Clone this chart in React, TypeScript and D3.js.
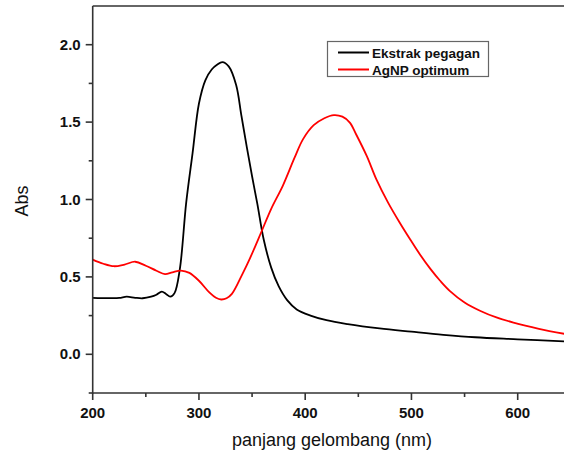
import React, { useEffect, useRef } from 'react'
import * as d3 from 'd3'

// UV-Vis spectra
const ekstrakNm = [200, 215, 225, 232, 240, 247, 255, 260, 265, 269, 273, 277, 282, 288, 294, 300, 306, 312, 317, 322, 328, 335, 340, 345, 350, 355, 361, 368, 375, 383, 392, 405, 420, 440, 470, 500, 530, 560, 600, 644]
const ekstrakAbs = [0.365, 0.363, 0.364, 0.372, 0.365, 0.362, 0.372, 0.385, 0.405, 0.39, 0.372, 0.395, 0.55, 0.98, 1.3, 1.62, 1.77, 1.84, 1.87, 1.888, 1.86, 1.74, 1.54, 1.34, 1.15, 0.97, 0.74, 0.56, 0.44, 0.35, 0.29, 0.25, 0.22, 0.195, 0.167, 0.146, 0.126, 0.11, 0.097, 0.083]

const agnpNm = [200, 210, 220, 230, 240, 250, 260, 268, 275, 283, 291, 300, 310, 316, 321, 326, 331, 341, 348, 359, 368, 379, 390, 398, 408, 418, 427, 435, 442, 448, 458, 467, 478, 489, 499, 508, 518, 527, 536, 550, 565, 580, 596, 620, 644]
const agnpAbs = [0.612, 0.585, 0.569, 0.58, 0.598, 0.572, 0.54, 0.518, 0.53, 0.541, 0.526, 0.475, 0.398, 0.365, 0.354, 0.362, 0.39, 0.52, 0.62, 0.795, 0.94, 1.09, 1.27, 1.39, 1.48, 1.525, 1.545, 1.535, 1.497, 1.42, 1.28, 1.13, 0.98, 0.85, 0.74, 0.645, 0.55, 0.475, 0.41, 0.335, 0.28, 0.238, 0.205, 0.165, 0.132]

const xMajor = [200, 300, 400, 500, 600]
const xMinor = [250, 350, 450, 550]
const yMajor = [0, 0.5, 1.0, 1.5, 2.0]
const yMinor = [-0.25, 0.25, 0.75, 1.25, 1.75]

const seriesNames = ['Ekstrak pegagan', 'AgNP optimum']
const seriesColors = ['#000000', '#ff0000']

const W = 564
const H = 459
const margin = { left: 92.7, top: 6, bottom: 393 }
const axisColor = '#333333'

function App() {
    const ref = useRef<SVGSVGElement>(null)

    useEffect(() => {
        const svg = d3.select(ref.current)
        svg.selectAll('*').remove()

        const x = d3.scaleLinear().domain([200, 650]).range([margin.left, margin.left + 450 * 1.0625])
        const y = d3.scaleLinear().domain([-0.25, 2.25]).range([margin.bottom, margin.top])

        const line = d3.line<[number, number]>()
            .x(d => x(d[0]))
            .y(d => y(d[1]))
            .curve(d3.curveCatmullRom.alpha(0.5))

        const series = [
            ekstrakNm.map((v, i) => [v, ekstrakAbs[i]] as [number, number]),
            agnpNm.map((v, i) => [v, agnpAbs[i]] as [number, number]),
        ]

        // curves
        const plot = svg.append('g')
        plot.selectAll('path.curve')
            .data(series)
            .enter()
            .append('path')
            .attr('class', 'curve')
            .attr('d', d => line(d))
            .attr('fill', 'none')
            .attr('stroke', (d, i) => seriesColors[i])
            .attr('stroke-width', 1.8)

        // frame: left, bottom, top
        const frame = svg.append('g').attr('stroke', axisColor).attr('stroke-width', 1.6)
        frame.append('line').attr('x1', margin.left).attr('x2', margin.left).attr('y1', margin.top).attr('y2', margin.bottom + 0.8)
        frame.append('line').attr('x1', margin.left).attr('x2', W).attr('y1', margin.bottom).attr('y2', margin.bottom)
        frame.append('line').attr('x1', margin.left).attr('x2', W).attr('y1', margin.top).attr('y2', margin.top)

        // y ticks
        frame.selectAll('line.ymaj').data(yMajor).enter().append('line')
            .attr('x1', margin.left - 7).attr('x2', margin.left)
            .attr('y1', d => y(d)).attr('y2', d => y(d))
        frame.selectAll('line.ymin').data(yMinor).enter().append('line')
            .attr('x1', margin.left - 4).attr('x2', margin.left)
            .attr('y1', d => y(d)).attr('y2', d => y(d))

        // x ticks
        frame.selectAll('line.xmaj').data(xMajor).enter().append('line')
            .attr('x1', d => x(d)).attr('x2', d => x(d))
            .attr('y1', margin.bottom).attr('y2', margin.bottom + 7)
        frame.selectAll('line.xmin').data(xMinor).enter().append('line')
            .attr('x1', d => x(d)).attr('x2', d => x(d))
            .attr('y1', margin.bottom).attr('y2', margin.bottom + 4)

        const font = 'Liberation Sans, Arial, sans-serif'

        svg.selectAll('text.ylab').data(yMajor).enter().append('text')
            .attr('x', margin.left - 12).attr('y', d => y(d) + 5)
            .attr('text-anchor', 'end')
            .attr('font-family', font).attr('font-weight', 'bold').attr('font-size', 15)
            .attr('fill', '#111')
            .text(d => d.toFixed(1))

        svg.selectAll('text.xlab').data(xMajor).enter().append('text')
            .attr('x', d => x(d)).attr('y', margin.bottom + 25)
            .attr('text-anchor', 'middle')
            .attr('font-family', font).attr('font-weight', 'bold').attr('font-size', 15)
            .attr('fill', '#111')
            .text(d => d)

        svg.append('text')
            .attr('x', 332).attr('y', 446)
            .attr('text-anchor', 'middle')
            .attr('font-family', font).attr('font-size', 18)
            .attr('fill', '#111')
            .text('panjang gelombang (nm)')

        svg.append('text')
            .attr('transform', 'translate(28, 201) rotate(-90)')
            .attr('text-anchor', 'middle')
            .attr('font-family', font).attr('font-size', 18)
            .attr('fill', '#111')
            .text('Abs')

        // legend
        const legend = svg.append('g')
        legend.append('rect')
            .attr('x', 327.5).attr('y', 41.5).attr('width', 161).attr('height', 35)
            .attr('fill', 'white').attr('stroke', '#666').attr('stroke-width', 1.2)
        seriesNames.forEach((name, i) => {
            const ly = 52.5 + i * 17
            legend.append('line')
                .attr('x1', 338).attr('x2', 369).attr('y1', ly).attr('y2', ly)
                .attr('stroke', seriesColors[i]).attr('stroke-width', 2)
            legend.append('text')
                .attr('x', 372).attr('y', ly + 5)
                .attr('font-family', font).attr('font-weight', 'bold').attr('font-size', 13.5)
                .attr('fill', '#111')
                .text(name)
        })
    }, [])

    return (
        <svg ref={ref} width={W} height={H}
            style={{ position: 'absolute', left: 0, top: 0, display: 'block', background: 'white' }} />
    )
}

export default App
